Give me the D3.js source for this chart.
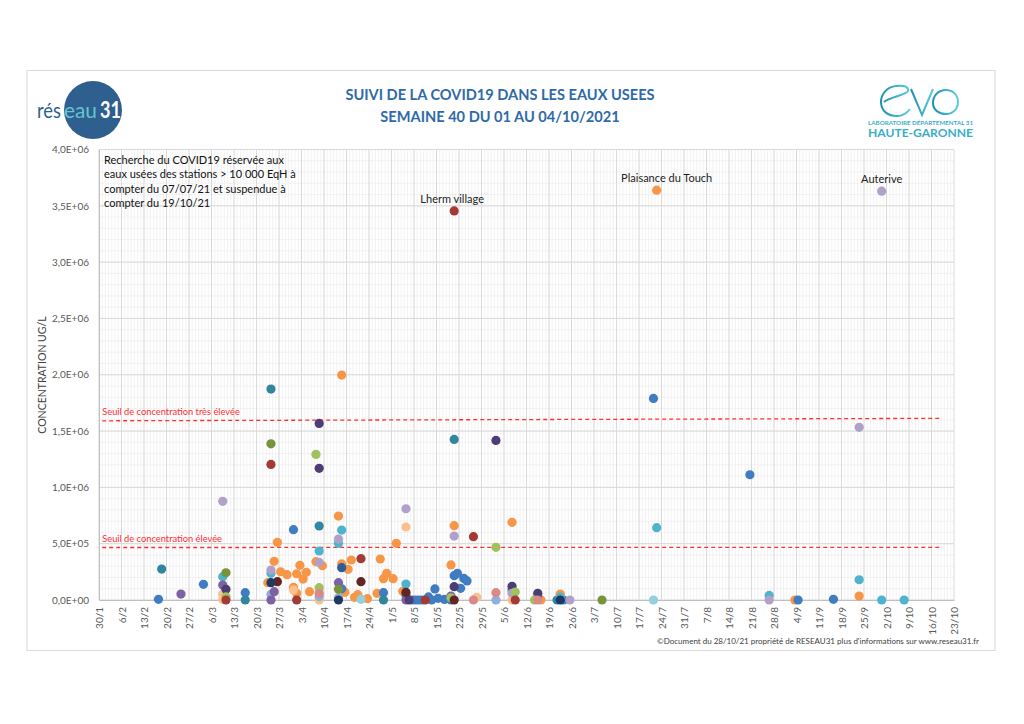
<!DOCTYPE html>
<html lang="fr">
<head>
<meta charset="utf-8">
<title>Suivi de la COVID19 dans les eaux usées</title>
<script src="https://cdnjs.cloudflare.com/ajax/libs/d3/7.8.5/d3.min.js"></script>
<style>
  body { margin: 0; background: #fff; }
  svg { display: block; font-family: Lato, "Open Sans", sans-serif; }
</style>
</head>
<body>
<div id="chart"></div>
<script>
// valeurs : [jour/mois 2021, concentration ug/L]
const bleu = [["17/2", 6000], ["3/3", 139000], ["16/3", 65000], ["31/3", 624000], ["15/4", 100000], ["28/4", 65000],
  ["7/5", 0], ["8/5", 0], ["9/5", 0], ["10/5", 0], ["12/5", 27000], ["13/5", 0], ["14/5", 98000], ["15/5", 15000],
  ["17/5", 5000], ["19/5", 0], ["20/5", 216000], ["21/5", 237000], ["22/5", 104000], ["23/5", 192000], ["24/5", 169000],
  ["23/6", 0], ["21/7", 1790000], ["20/8", 1112000], ["4/9", 0], ["15/9", 6000]];
const bleuFonce = [["15/4", 287000]];
const sarcelle = [["18/2", 275000], ["16/3", 0], ["24/3", 1873000], ["8/4", 657000], ["28/4", 0], ["5/5", 44000],
  ["20/5", 1426000], ["21/6", 0]];
const turquoise = [["9/3", 207000], ["24/3", 237000], ["8/4", 435000], ["14/4", 503000], ["15/4", 621000], ["5/5", 142000],
  ["22/6", 25000], ["22/7", 642000], ["26/8", 41000], ["23/9", 180000], ["30/9", 0], ["7/10", 0]];
const turquoisePale = [["21/4", 6000], ["21/7", 0]];
const bleuClair = [["24/3", 50000], ["8/4", 30000], ["14/4", 20000], ["2/6", 0]];
const violet = [["24/2", 53000], ["9/3", 133000], ["24/3", 0], ["25/3", 74000], ["14/4", 154000], ["5/5", 0],
  ["19/5", 35000], ["7/6", 89000], ["15/6", 29000]];
const violetFonce = [["10/3", 95000], ["8/4", 1568000], ["8/4", 1169000], ["6/5", 0], ["20/5", 118000],
  ["2/6", 1417000], ["7/6", 121000], ["15/6", 59000]];
const lavande = [["9/3", 876000], ["24/3", 266000], ["8/4", 334000], ["14/4", 541000], ["5/5", 810000], ["20/5", 568000],
  ["7/6", 59000], ["25/6", 0], ["26/8", 0], ["23/9", 1533000]];
const olive = [["10/3", 242000], ["24/3", 1387000], ["14/4", 95000], ["5/7", 0]];
const vertClair = [["10/3", 29000], ["7/4", 1293000], ["8/4", 109000], ["19/5", 20000], ["2/6", 468000], ["8/6", 71000], ["14/6", 0]];
const rouge = [["10/3", 0], ["24/3", 1204000], ["1/4", 0], ["21/4", 367000], ["11/5", 0], ["26/5", 562000], ["8/6", 0]];
const bordeaux = [["26/3", 163000], ["21/4", 163000], ["5/5", 68000], ["20/5", 0]];
const orange = [["23/3", 154000], ["25/3", 343000], ["26/3", 512000], ["27/3", 251000], ["29/3", 225000], ["31/3", 113000],
  ["1/4", 233000], ["1/4", 59000], ["2/4", 308000], ["3/4", 186000], ["4/4", 246000], ["5/4", 74000], ["7/4", 340000],
  ["9/4", 304000], ["14/4", 745000], ["15/4", 1997000], ["15/4", 320000], ["16/4", 68000], ["17/4", 272000],
  ["18/4", 355000], ["19/4", 24000], ["20/4", 47000], ["23/4", 12000], ["26/4", 59000], ["27/4", 364000],
  ["28/4", 189000], ["29/4", 237000], ["1/5", 189000], ["2/5", 503000], ["4/5", 77000], ["19/5", 311000],
  ["20/5", 660000], ["7/6", 690000], ["16/6", 0], ["22/6", 53000], ["3/9", 0], ["23/9", 35000]];
const orangeClair = [["9/3", 53000], ["9/3", 5000], ["31/3", 89000], ["8/4", 0], ["5/5", 648000], ["27/5", 24000], ["7/6", 0]];
const marine = [["24/3", 154000], ["14/4", 0], ["22/6", 0]];
const rose = [["8/4", 59000], ["26/5", 0], ["2/6", 65000], ["15/6", 0]];
const lhermVillage = [["20/5", 3455000]];
const plaisanceDuTouch = [["22/7", 3639000]];
const auterive = [["30/9", 3630000]];

// seuils (début / fin de la ligne)
const seuilDates = ["31/1", "19/10"];
const seuilTresEleve = [1591000, 1613000];
const seuilEleve = [466000, 468000];

const yTicks = d3.range(0, 4000001, 500000);

const width = 1024;
const height = 724;
const blueTitle = "#2f6aa8";

const series = [
  [orange, "#f79646"], [orangeClair, "#fac08f"], [bleu, "#3f7cc2"], [bleuFonce, "#2c5d9a"],
  [sarcelle, "#31869f"], [turquoise, "#4db3cf"], [turquoisePale, "#93cfdf"], [bleuClair, "#8eb0dc"],
  [violet, "#7c62a0"], [violetFonce, "#4d3d74"], [lavande, "#b1a0c8"], [olive, "#77933c"],
  [vertClair, "#9fc15f"], [rouge, "#a33a36"], [bordeaux, "#632523"], [marine, "#1f3a62"],
  [rose, "#d98a87"], [lhermVillage, "#a33a36"], [plaisanceDuTouch, "#f79646"], [auterive, "#b1a0c8"]
];

const parse = d => d3.timeParse("%d/%m/%Y")(d + "/2021");
// les prélèvements sont placés à midi
const midi = d => d3.timeHour.offset(parse(d), 12);

const svg = d3.select("#chart").append("svg")
  .attr("width", width)
  .attr("height", height);

svg.append("rect").attr("width", width).attr("height", height).attr("fill", "#fff");
svg.append("rect")
  .attr("x", 27).attr("y", 70.5).attr("width", 968).attr("height", 580)
  .attr("fill", "none").attr("stroke", "#d9d9d9");

const x = d3.scaleTime()
  .domain([parse("30/1"), parse("23/10")])
  .range([99, 954]);
const y = d3.scaleLinear()
  .domain([0, 4000000])
  .range([600, 149.5]);

// grilles
const days = d3.timeDay.range(x.domain()[0], x.domain()[1]);
svg.append("g").selectAll("line").data(days).join("line")
  .attr("x1", d => x(d)).attr("x2", d => x(d))
  .attr("y1", y(4000000)).attr("y2", y(0))
  .attr("stroke", "#efefef").attr("stroke-width", 0.8);
svg.append("g").selectAll("line").data(d3.range(0, 4000001, 100000)).join("line")
  .attr("x1", x.range()[0]).attr("x2", x.range()[1])
  .attr("y1", d => y(d)).attr("y2", d => y(d))
  .attr("stroke", "#efefef").attr("stroke-width", 0.8);

const weeks = x.ticks(d3.timeSaturday.every(1));
svg.append("g").selectAll("line").data(weeks).join("line")
  .attr("x1", d => x(d)).attr("x2", d => x(d))
  .attr("y1", y(4000000)).attr("y2", y(0))
  .attr("stroke", "#d9d9d9");
svg.append("g").selectAll("line").data(yTicks).join("line")
  .attr("x1", x.range()[0]).attr("x2", x.range()[1])
  .attr("y1", d => y(d)).attr("y2", d => y(d))
  .attr("stroke", "#d9d9d9");

// axes
const sci = v => {
  if (v === 0) return "0,0E+00";
  const e = Math.floor(Math.log10(v));
  return (v / Math.pow(10, e)).toFixed(1).replace(".", ",") + "E+" + String(e).padStart(2, "0");
};

const xAxis = svg.append("g")
  .attr("transform", `translate(0,${y(0)})`)
  .call(d3.axisBottom(x).tickValues(weeks).tickFormat(d3.timeFormat("%-d/%-m")).tickSize(0));
xAxis.select(".domain").attr("stroke", "#bfbfbf");
xAxis.selectAll("text")
  .attr("transform", "rotate(-90)")
  .attr("text-anchor", "end")
  .attr("x", -7).attr("y", 0).attr("dy", "0.35em")
  .attr("fill", "#595959").style("font-size", "10px").style("font-family", "Lato, sans-serif");

const yAxis = svg.append("g")
  .attr("transform", `translate(${x.range()[0]},0)`)
  .call(d3.axisLeft(y).tickValues(yTicks).tickFormat(sci).tickSize(0).tickPadding(10));
yAxis.select(".domain").attr("stroke", "#bfbfbf");
yAxis.selectAll("text")
  .attr("fill", "#595959").style("font-size", "10px").style("font-family", "Lato, sans-serif");

svg.append("text")
  .attr("transform", "translate(46,375) rotate(-90)")
  .attr("text-anchor", "middle")
  .attr("fill", "#404040").style("font-size", "10.5px")
  .text("CONCENTRATION UG/L");

// seuils
const seuils = [
  {valeurs: seuilTresEleve, label: "Seuil de concentration très élevée"},
  {valeurs: seuilEleve, label: "Seuil de concentration élevée"}
];
seuils.forEach(s => {
  svg.append("line")
    .attr("x1", x(parse(seuilDates[0]))).attr("x2", x(parse(seuilDates[1])))
    .attr("y1", y(s.valeurs[0])).attr("y2", y(s.valeurs[1]))
    .attr("stroke", "#ff3030").attr("stroke-width", 1.3).attr("stroke-dasharray", "4,3");
  svg.append("text")
    .attr("x", x(parse(seuilDates[0]))).attr("y", y(s.valeurs[0]) - 5.5)
    .attr("fill", "#ff3030").style("font-size", "9.3px")
    .text(s.label);
});

// points
series.forEach(([pts, color]) => {
  svg.append("g").selectAll("circle").data(pts).join("circle")
    .attr("cx", d => x(midi(d[0])))
    .attr("cy", d => y(d[1]))
    .attr("r", 4.6)
    .attr("fill", color);
});

// étiquettes des stations
const etiquettes = [
  {nom: "Lherm village", pts: lhermVillage, dx: -2},
  {nom: "Plaisance du Touch", pts: plaisanceDuTouch, dx: 10},
  {nom: "Auterive", pts: auterive, dx: 0}
];
etiquettes.forEach(e => {
  svg.append("text")
    .attr("x", x(midi(e.pts[0][0])) + e.dx)
    .attr("y", y(e.pts[0][1]) - 8)
    .attr("text-anchor", "middle")
    .attr("fill", "#222").style("font-size", "11px")
    .text(e.nom);
});

// note
const note = ["Recherche du COVID19 réservée aux", "eaux usées des stations > 10 000 EqH à",
  "compter du 07/07/21 et suspendue à", "compter du 19/10/21"];
svg.append("text")
  .attr("x", 104).attr("y", 163.5)
  .attr("fill", "#111").style("font-size", "11px")
  .selectAll("tspan").data(note).join("tspan")
  .attr("x", 104).attr("dy", (d, i) => i ? 14.6 : 0)
  .text(d => d);

// titre
svg.append("text")
  .attr("x", 500).attr("y", 100)
  .attr("text-anchor", "middle").attr("fill", blueTitle)
  .style("font-size", "14.6px").style("font-weight", "bold")
  .text("SUIVI DE LA COVID19 DANS LES EAUX USEES");
svg.append("text")
  .attr("x", 500).attr("y", 122)
  .attr("text-anchor", "middle").attr("fill", blueTitle)
  .style("font-size", "14.6px").style("font-weight", "bold")
  .text("SEMAINE 40 DU 01 AU 04/10/2021");

svg.append("text")
  .attr("x", 979).attr("y", 644)
  .attr("text-anchor", "end").attr("fill", "#404040")
  .style("font-size", "8px")
  .text("©Document du 28/10/21 propriété de RESEAU31 plus d'informations sur www.reseau31.fr");

// logo réseau31
const logo = svg.append("g").style("font-size", "22px");
logo.append("circle").attr("cx", 93).attr("cy", 110).attr("r", 29).attr("fill", "#2f5f8f");
[["rés", 37, 24, "#2f5f8f", "normal"], ["eau", 64, 33, "#62c6d0", "normal"], ["31", 100, 21, "#fff", "bold"]]
  .forEach(([t, x0, w, c, fw]) => {
    logo.append("text")
      .attr("x", x0).attr("y", 118)
      .attr("textLength", w).attr("lengthAdjust", "spacingAndGlyphs")
      .attr("fill", c).style("font-weight", fw)
      .text(t);
  });

// logo eva
const grad = svg.append("defs").append("linearGradient").attr("id", "evaGrad");
grad.append("stop").attr("offset", "0%").attr("stop-color", "#1f8fb0");
grad.append("stop").attr("offset", "100%").attr("stop-color", "#5ccbe0");
const eva = svg.append("g").attr("fill", "none").attr("stroke", "url(#evaGrad)").attr("stroke-width", 2);
eva.append("path").attr("d", "M868,102 H973");
eva.append("path").attr("d", "M884,102 C889,97 907,95 908,91 C909,86 902,85 896,86 C887,87 881,94 881,102 C881,111 888,116 897,116 C903,116 907,113 910,109");
eva.append("path").attr("d", "M911,89 L922,115 L933,89");
eva.append("path").attr("d", "M958,102 C958,95 953,90 946,90 C938,90 933,96 933,103 C933,110 939,114 946,114 C953,114 958,109 958,102 Z");
svg.append("text")
  .attr("x", 868).attr("y", 125)
  .attr("textLength", 105).attr("lengthAdjust", "spacingAndGlyphs")
  .attr("fill", "#3aaec6").style("font-size", "5.5px").style("font-weight", "bold")
  .text("LABORATOIRE DÉPARTEMENTAL 31");
svg.append("text")
  .attr("x", 868).attr("y", 137)
  .attr("textLength", 105).attr("lengthAdjust", "spacingAndGlyphs")
  .attr("fill", "#3aaec6").style("font-size", "11.5px").style("font-weight", "bold")
  .text("HAUTE-GARONNE");
</script>
</body>
</html>
